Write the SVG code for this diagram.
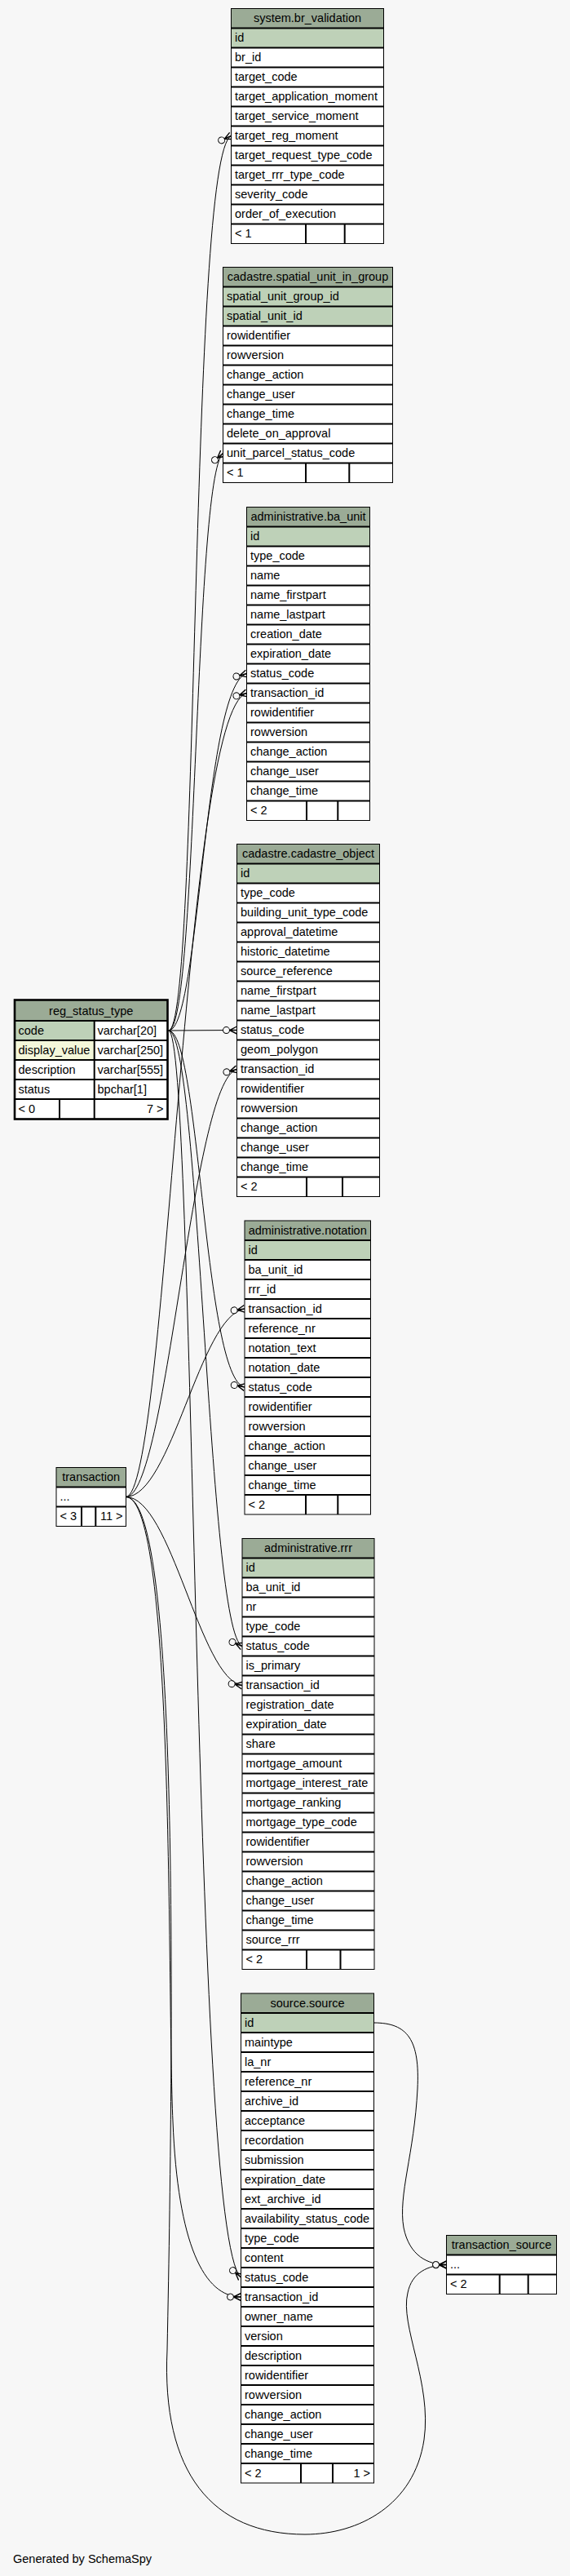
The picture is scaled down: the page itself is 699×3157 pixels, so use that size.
<svg xmlns="http://www.w3.org/2000/svg" width="699" height="3157" viewBox="0 0 699 3157">
<defs>
<style>
.t{font-family:"Liberation Sans",Arial,Helvetica,sans-serif;font-size:14.5px;fill:#000}
.c{text-anchor:middle}
.e{text-anchor:end}
.bd{fill:#fff}
.hd{fill:#9bab96}
.pk{fill:#bed1b8}
.dv{fill:#f4f7da}
.sep{stroke:#000;stroke-width:2;fill:none}
.ol{fill:none;stroke:#000;stroke-width:1}
.ed{fill:none;stroke:#000;stroke-width:1}
</style>
<marker id="m" viewBox="-20 -6 21 12" refX="0" refY="0" markerWidth="21" markerHeight="12" markerUnits="userSpaceOnUse" orient="auto" overflow="visible">
<path d="M-9,0 L0,-4.5 M-9,0 L0,0 M-9,0 L0,4.5" stroke="#000" stroke-width="1.4" fill="none"/>
<circle cx="-13" cy="0" r="4" fill="#f7f7f7" stroke="#000" stroke-width="1"/>
</marker>
</defs>
<rect x="0" y="0" width="699" height="3157" fill="#f7f7f7"/>

<g id="connectors">
<path class="ed" marker-end="url(#m)" d="M206.7,1263 C245,1263 232,190 283.5,166.5"/>
<path class="ed" marker-end="url(#m)" d="M206.7,1263 C242,1263 238,585 273.5,555.5"/>
<path class="ed" marker-end="url(#m)" d="M206.7,1263 C245,1263 250,840 302.5,825.5"/>
<path class="ed" marker-end="url(#m)" d="M206.7,1263 L290.5,1262.5"/>
<path class="ed" marker-end="url(#m)" d="M206.7,1263 C245,1263 250,1690 300,1700"/>
<path class="ed" marker-end="url(#m)" d="M206.7,1263 C245,1263 255,2000 297,2017.5"/>
<path class="ed" marker-end="url(#m)" d="M206.7,1263 C240,1263 235,2740 295.5,2791"/>
<path class="ed" marker-end="url(#m)" d="M154.3,1834.5 C205,1834.5 225,870 302.5,849.5"/>
<path class="ed" marker-end="url(#m)" d="M154.3,1834.5 C205,1834.5 235,1325 290.5,1310.5"/>
<path class="ed" marker-end="url(#m)" d="M154.3,1834.5 C210,1834.5 245,1612 300,1604"/>
<path class="ed" marker-end="url(#m)" d="M154.3,1834.5 C210,1834.5 245,2058 297,2065.5"/>
<path class="ed" marker-end="url(#m)" d="M154.3,1834.5 C215,1834.5 205,2450 212,2600 C218,2750 250,2815 295.5,2815"/>
<path class="ed" marker-end="url(#m)" d="M154.3,1834.5 C218,1834.5 214,2440 205,2880 C198,3030 260,3106 374,3106 C440,3106 508,3070 520,2990 C530,2920 490,2850 500,2810 C505,2785 525,2776 547.5,2775.5"/>
<path class="ed" marker-end="url(#m)" d="M458.5,2479 C500,2479 515,2500 512,2560 C508,2640 488,2690 495,2730 C502,2765 525,2775.5 547.5,2775.5"/>
</g>

<g id="system.br_validation">
<rect class="bd" x="283.5" y="10.5" width="187" height="288"/>
<rect class="hd" x="283.5" y="10.5" width="187" height="24"/>
<rect class="pk" x="283.5" y="34.5" width="187" height="24"/>
<path class="sep" d="M283.5,34.5H470.5M283.5,58.5H470.5M283.5,82.5H470.5M283.5,106.5H470.5M283.5,130.5H470.5M283.5,154.5H470.5M283.5,178.5H470.5M283.5,202.5H470.5M283.5,226.5H470.5M283.5,250.5H470.5M283.5,274.5H470.5M375,274.5V298.5M422.7,274.5V298.5"/>
<rect class="ol" x="283.5" y="10.5" width="187" height="288"/>
<text class="t c" x="377" y="27">system.br_validation</text>
<text class="t" x="288" y="51">id</text>
<text class="t" x="288" y="75">br_id</text>
<text class="t" x="288" y="99">target_code</text>
<text class="t" x="288" y="123">target_application_moment</text>
<text class="t" x="288" y="147">target_service_moment</text>
<text class="t" x="288" y="171">target_reg_moment</text>
<text class="t" x="288" y="195">target_request_type_code</text>
<text class="t" x="288" y="219">target_rrr_type_code</text>
<text class="t" x="288" y="243">severity_code</text>
<text class="t" x="288" y="267">order_of_execution</text>
<text class="t" x="288" y="291">&lt; 1</text>
</g>

<g id="cadastre.spatial_unit_in_group">
<rect class="bd" x="273.5" y="327.5" width="208" height="264"/>
<rect class="hd" x="273.5" y="327.5" width="208" height="24"/>
<rect class="pk" x="273.5" y="351.5" width="208" height="48"/>
<path class="sep" d="M273.5,351.5H481.5M273.5,375.5H481.5M273.5,399.5H481.5M273.5,423.5H481.5M273.5,447.5H481.5M273.5,471.5H481.5M273.5,495.5H481.5M273.5,519.5H481.5M273.5,543.5H481.5M273.5,567.5H481.5M375,567.5V591.5M428.3,567.5V591.5"/>
<rect class="ol" x="273.5" y="327.5" width="208" height="264"/>
<text class="t c" x="377.5" y="344">cadastre.spatial_unit_in_group</text>
<text class="t" x="278" y="368">spatial_unit_group_id</text>
<text class="t" x="278" y="392">spatial_unit_id</text>
<text class="t" x="278" y="416">rowidentifier</text>
<text class="t" x="278" y="440">rowversion</text>
<text class="t" x="278" y="464">change_action</text>
<text class="t" x="278" y="488">change_user</text>
<text class="t" x="278" y="512">change_time</text>
<text class="t" x="278" y="536">delete_on_approval</text>
<text class="t" x="278" y="560">unit_parcel_status_code</text>
<text class="t" x="278" y="584">&lt; 1</text>
</g>

<g id="administrative.ba_unit">
<rect class="bd" x="302.5" y="621.5" width="151" height="384"/>
<rect class="hd" x="302.5" y="621.5" width="151" height="24"/>
<rect class="pk" x="302.5" y="645.5" width="151" height="24"/>
<path class="sep" d="M302.5,645.5H453.5M302.5,669.5H453.5M302.5,693.5H453.5M302.5,717.5H453.5M302.5,741.5H453.5M302.5,765.5H453.5M302.5,789.5H453.5M302.5,813.5H453.5M302.5,837.5H453.5M302.5,861.5H453.5M302.5,885.5H453.5M302.5,909.5H453.5M302.5,933.5H453.5M302.5,957.5H453.5M302.5,981.5H453.5M376,981.5V1005.5M414.3,981.5V1005.5"/>
<rect class="ol" x="302.5" y="621.5" width="151" height="384"/>
<text class="t c" x="378" y="638">administrative.ba_unit</text>
<text class="t" x="307" y="662">id</text>
<text class="t" x="307" y="686">type_code</text>
<text class="t" x="307" y="710">name</text>
<text class="t" x="307" y="734">name_firstpart</text>
<text class="t" x="307" y="758">name_lastpart</text>
<text class="t" x="307" y="782">creation_date</text>
<text class="t" x="307" y="806">expiration_date</text>
<text class="t" x="307" y="830">status_code</text>
<text class="t" x="307" y="854">transaction_id</text>
<text class="t" x="307" y="878">rowidentifier</text>
<text class="t" x="307" y="902">rowversion</text>
<text class="t" x="307" y="926">change_action</text>
<text class="t" x="307" y="950">change_user</text>
<text class="t" x="307" y="974">change_time</text>
<text class="t" x="307" y="998">&lt; 2</text>
</g>

<g id="cadastre.cadastre_object">
<rect class="bd" x="290.5" y="1034.5" width="175" height="432"/>
<rect class="hd" x="290.5" y="1034.5" width="175" height="24"/>
<rect class="pk" x="290.5" y="1058.5" width="175" height="24"/>
<path class="sep" d="M290.5,1058.5H465.5M290.5,1082.5H465.5M290.5,1106.5H465.5M290.5,1130.5H465.5M290.5,1154.5H465.5M290.5,1178.5H465.5M290.5,1202.5H465.5M290.5,1226.5H465.5M290.5,1250.5H465.5M290.5,1274.5H465.5M290.5,1298.5H465.5M290.5,1322.5H465.5M290.5,1346.5H465.5M290.5,1370.5H465.5M290.5,1394.5H465.5M290.5,1418.5H465.5M290.5,1442.5H465.5M376,1442.5V1466.5M420,1442.5V1466.5"/>
<rect class="ol" x="290.5" y="1034.5" width="175" height="432"/>
<text class="t c" x="378" y="1051">cadastre.cadastre_object</text>
<text class="t" x="295" y="1075">id</text>
<text class="t" x="295" y="1099">type_code</text>
<text class="t" x="295" y="1123">building_unit_type_code</text>
<text class="t" x="295" y="1147">approval_datetime</text>
<text class="t" x="295" y="1171">historic_datetime</text>
<text class="t" x="295" y="1195">source_reference</text>
<text class="t" x="295" y="1219">name_firstpart</text>
<text class="t" x="295" y="1243">name_lastpart</text>
<text class="t" x="295" y="1267">status_code</text>
<text class="t" x="295" y="1291">geom_polygon</text>
<text class="t" x="295" y="1315">transaction_id</text>
<text class="t" x="295" y="1339">rowidentifier</text>
<text class="t" x="295" y="1363">rowversion</text>
<text class="t" x="295" y="1387">change_action</text>
<text class="t" x="295" y="1411">change_user</text>
<text class="t" x="295" y="1435">change_time</text>
<text class="t" x="295" y="1459">&lt; 2</text>
</g>

<g id="reg_status_type">
<rect class="bd" x="18" y="1225.5" width="187.5" height="146"/>
<rect class="hd" x="18" y="1225.5" width="187.5" height="25.5"/>
<rect class="pk" x="18" y="1251" width="97.7" height="24"/>
<rect class="dv" x="18" y="1275" width="97.7" height="24"/>
<path class="sep" d="M18,1251H205.5M18,1275H205.5M18,1299H205.5M18,1323H205.5M18,1347H205.5M115.7,1251V1371.5M73,1347V1371.5"/>
<rect x="18" y="1225.5" width="187.5" height="146" fill="none" stroke="#000" stroke-width="2.6"/>
<text class="t c" x="111.7" y="1243.5">reg_status_type</text>
<text class="t" x="22.5" y="1268">code</text>
<text class="t" x="119.5" y="1268">varchar[20]</text>
<text class="t" x="22.5" y="1292">display_value</text>
<text class="t" x="119.5" y="1292">varchar[250]</text>
<text class="t" x="22.5" y="1316">description</text>
<text class="t" x="119.5" y="1316">varchar[555]</text>
<text class="t" x="22.5" y="1340">status</text>
<text class="t" x="119.5" y="1340">bpchar[1]</text>
<text class="t" x="22.5" y="1364">&lt; 0</text>
<text class="t e" x="200.5" y="1364">7 &gt;</text>
</g>

<g id="administrative.notation">
<rect class="bd" x="300" y="1496" width="154.5" height="360"/>
<rect class="hd" x="300" y="1496" width="154.5" height="24"/>
<rect class="pk" x="300" y="1520" width="154.5" height="24"/>
<path class="sep" d="M300,1520H454.5M300,1544H454.5M300,1568H454.5M300,1592H454.5M300,1616H454.5M300,1640H454.5M300,1664H454.5M300,1688H454.5M300,1712H454.5M300,1736H454.5M300,1760H454.5M300,1784H454.5M300,1808H454.5M300,1832H454.5M375,1832V1856M414.3,1832V1856"/>
<rect class="ol" x="300" y="1496" width="154.5" height="360"/>
<text class="t c" x="377.2" y="1512.5">administrative.notation</text>
<text class="t" x="304.5" y="1536.5">id</text>
<text class="t" x="304.5" y="1560.5">ba_unit_id</text>
<text class="t" x="304.5" y="1584.5">rrr_id</text>
<text class="t" x="304.5" y="1608.5">transaction_id</text>
<text class="t" x="304.5" y="1632.5">reference_nr</text>
<text class="t" x="304.5" y="1656.5">notation_text</text>
<text class="t" x="304.5" y="1680.5">notation_date</text>
<text class="t" x="304.5" y="1704.5">status_code</text>
<text class="t" x="304.5" y="1728.5">rowidentifier</text>
<text class="t" x="304.5" y="1752.5">rowversion</text>
<text class="t" x="304.5" y="1776.5">change_action</text>
<text class="t" x="304.5" y="1800.5">change_user</text>
<text class="t" x="304.5" y="1824.5">change_time</text>
<text class="t" x="304.5" y="1848.5">&lt; 2</text>
</g>

<g id="transaction">
<rect class="bd" x="69" y="1798.5" width="85.5" height="72"/>
<rect class="hd" x="69" y="1798.5" width="85.5" height="24"/>
<path class="sep" d="M69,1822.5H154.5M69,1846.5H154.5M100,1846.5V1870.5M117.3,1846.5V1870.5"/>
<rect class="ol" x="69" y="1798.5" width="85.5" height="72"/>
<text class="t c" x="111.7" y="1815">transaction</text>
<text class="t" x="73.5" y="1839">...</text>
<text class="t" x="73.5" y="1863">&lt; 3</text>
<text class="t e" x="150.5" y="1863">11 &gt;</text>
</g>

<g id="administrative.rrr">
<rect class="bd" x="297" y="1885.5" width="162" height="528"/>
<rect class="hd" x="297" y="1885.5" width="162" height="24"/>
<rect class="pk" x="297" y="1909.5" width="162" height="24"/>
<path class="sep" d="M297,1909.5H459M297,1933.5H459M297,1957.5H459M297,1981.5H459M297,2005.5H459M297,2029.5H459M297,2053.5H459M297,2077.5H459M297,2101.5H459M297,2125.5H459M297,2149.5H459M297,2173.5H459M297,2197.5H459M297,2221.5H459M297,2245.5H459M297,2269.5H459M297,2293.5H459M297,2317.5H459M297,2341.5H459M297,2365.5H459M297,2389.5H459M376,2389.5V2413.5M417.5,2389.5V2413.5"/>
<rect class="ol" x="297" y="1885.5" width="162" height="528"/>
<text class="t c" x="378" y="1902">administrative.rrr</text>
<text class="t" x="301.5" y="1926">id</text>
<text class="t" x="301.5" y="1950">ba_unit_id</text>
<text class="t" x="301.5" y="1974">nr</text>
<text class="t" x="301.5" y="1998">type_code</text>
<text class="t" x="301.5" y="2022">status_code</text>
<text class="t" x="301.5" y="2046">is_primary</text>
<text class="t" x="301.5" y="2070">transaction_id</text>
<text class="t" x="301.5" y="2094">registration_date</text>
<text class="t" x="301.5" y="2118">expiration_date</text>
<text class="t" x="301.5" y="2142">share</text>
<text class="t" x="301.5" y="2166">mortgage_amount</text>
<text class="t" x="301.5" y="2190">mortgage_interest_rate</text>
<text class="t" x="301.5" y="2214">mortgage_ranking</text>
<text class="t" x="301.5" y="2238">mortgage_type_code</text>
<text class="t" x="301.5" y="2262">rowidentifier</text>
<text class="t" x="301.5" y="2286">rowversion</text>
<text class="t" x="301.5" y="2310">change_action</text>
<text class="t" x="301.5" y="2334">change_user</text>
<text class="t" x="301.5" y="2358">change_time</text>
<text class="t" x="301.5" y="2382">source_rrr</text>
<text class="t" x="301.5" y="2406">&lt; 2</text>
</g>

<g id="source.source">
<rect class="bd" x="295.5" y="2443" width="163" height="600"/>
<rect class="hd" x="295.5" y="2443" width="163" height="24"/>
<rect class="pk" x="295.5" y="2467" width="163" height="24"/>
<path class="sep" d="M295.5,2467H458.5M295.5,2491H458.5M295.5,2515H458.5M295.5,2539H458.5M295.5,2563H458.5M295.5,2587H458.5M295.5,2611H458.5M295.5,2635H458.5M295.5,2659H458.5M295.5,2683H458.5M295.5,2707H458.5M295.5,2731H458.5M295.5,2755H458.5M295.5,2779H458.5M295.5,2803H458.5M295.5,2827H458.5M295.5,2851H458.5M295.5,2875H458.5M295.5,2899H458.5M295.5,2923H458.5M295.5,2947H458.5M295.5,2971H458.5M295.5,2995H458.5M295.5,3019H458.5M369,3019V3043M408,3019V3043"/>
<rect class="ol" x="295.5" y="2443" width="163" height="600"/>
<text class="t c" x="377" y="2459.5">source.source</text>
<text class="t" x="300" y="2483.5">id</text>
<text class="t" x="300" y="2507.5">maintype</text>
<text class="t" x="300" y="2531.5">la_nr</text>
<text class="t" x="300" y="2555.5">reference_nr</text>
<text class="t" x="300" y="2579.5">archive_id</text>
<text class="t" x="300" y="2603.5">acceptance</text>
<text class="t" x="300" y="2627.5">recordation</text>
<text class="t" x="300" y="2651.5">submission</text>
<text class="t" x="300" y="2675.5">expiration_date</text>
<text class="t" x="300" y="2699.5">ext_archive_id</text>
<text class="t" x="300" y="2723.5">availability_status_code</text>
<text class="t" x="300" y="2747.5">type_code</text>
<text class="t" x="300" y="2771.5">content</text>
<text class="t" x="300" y="2795.5">status_code</text>
<text class="t" x="300" y="2819.5">transaction_id</text>
<text class="t" x="300" y="2843.5">owner_name</text>
<text class="t" x="300" y="2867.5">version</text>
<text class="t" x="300" y="2891.5">description</text>
<text class="t" x="300" y="2915.5">rowidentifier</text>
<text class="t" x="300" y="2939.5">rowversion</text>
<text class="t" x="300" y="2963.5">change_action</text>
<text class="t" x="300" y="2987.5">change_user</text>
<text class="t" x="300" y="3011.5">change_time</text>
<text class="t" x="300" y="3035.5">&lt; 2</text>
<text class="t e" x="454" y="3035.5">1 &gt;</text>
</g>

<g id="transaction_source">
<rect class="bd" x="547.5" y="2739.5" width="135" height="72"/>
<rect class="hd" x="547.5" y="2739.5" width="135" height="24"/>
<path class="sep" d="M547.5,2763.5H682.5M547.5,2787.5H682.5M612.7,2787.5V2811.5M647.7,2787.5V2811.5"/>
<rect class="ol" x="547.5" y="2739.5" width="135" height="72"/>
<text class="t c" x="615" y="2756">transaction_source</text>
<text class="t" x="552" y="2780">...</text>
<text class="t" x="552" y="2804">&lt; 2</text>
</g>

<text class="t" x="16" y="3141">Generated by SchemaSpy</text>
</svg>
